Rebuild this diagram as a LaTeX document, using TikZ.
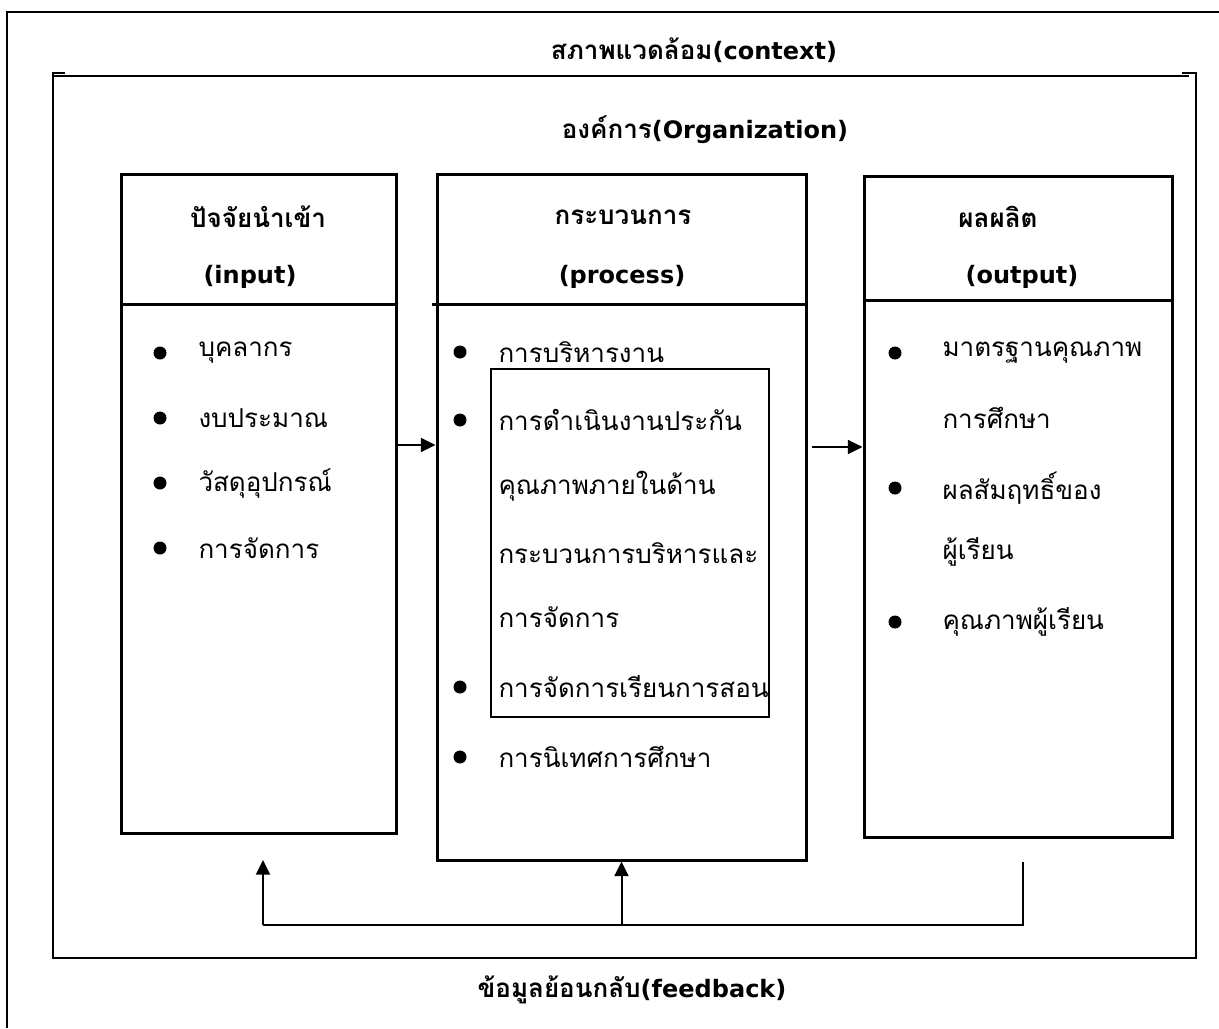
\documentclass[tikz,border=0pt]{standalone}
\usepackage{fontspec}
\setmainfont[Script=Thai]{Loma}
\newfontfamily\latinfont{DejaVu Sans}
\newcommand\lat[1]{{\latinfont\fontsize{18}{22}\selectfont #1}}
\usetikzlibrary{arrows.meta}

\tikzset{every picture/.style={line width=0.75pt}}
\tikzset{
  box/.style={draw, line width=2.25pt, inner sep=0pt},
  head/.style={font=\bfseries\fontsize{19.5}{22}\selectfont},
  item/.style={anchor=west, inner sep=0pt, font=\fontsize{19.5}{22}\selectfont},
  dot/.style={circle, fill, inner sep=0pt, minimum size=9.75pt},
  arr/.style={line width=1.5pt, -{Triangle[length=11pt,width=10.5pt]}},
}

\begin{document}
\begin{tikzpicture}[x=0.75pt,y=0.75pt,yscale=-1,xscale=1]
	\useasboundingbox (0,0) rectangle (1219,1028);

	%Straight Lines [outer frame]
	\draw [line width=1.5pt] (1219,12) -- (7,12) -- (7,1028) ;
	%Shape: Rectangle [organization frame]
	\draw [line width=1.5pt] (1182,73) -- (1196,73) -- (1196,958) -- (53,958) -- (53,73) -- (65,73) ;
	\draw [line width=1.5pt] (53,76) -- (1189,76) ;

	%Shape: Rectangle [input]
	\node [box, minimum width=206.25pt, minimum height=494.25pt] (inbox) at (258.5,503.5) {};
	\draw [line width=2.25pt] (inbox.west |- 0,304) -- (inbox.east |- 0,304) ;
	%Shape: Rectangle [process]
	\node [box, minimum width=276.75pt, minimum height=514.5pt] (procbox) at (621.5,517) {};
	\draw [line width=2.25pt] (432,304) -- (procbox.east |- 0,304) ;
	%Shape: Rectangle [output]
	\node [box, minimum width=231pt, minimum height=495.75pt] (outbox) at (1018,506.5) {};
	\draw [line width=2.25pt] (outbox.west |- 0,300) -- (outbox.east |- 0,300) ;
	%Shape: Rectangle [quality assurance]
	\node [draw, line width=1.5pt, inner sep=0pt, minimum width=208.5pt, minimum height=261pt] (qabox) at (630,543) {};

	%Straight Lines [input -> process]
	\draw [arr] (inbox.east |- 0,445) -- (procbox.west |- 0,445) ;
	%Straight Lines [process -> output]
	\draw [arr] (812,447) coordinate (pout) -- (outbox.west |- pout) ;

	%Straight Lines [feedback]
	\coordinate (fbout) at (1023,862) ;
	\coordinate (fbin) at (263,925) ;
	\coordinate (fbproc) at (procbox.south |- fbin) ;
	\draw [line width=1.5pt] (fbout) |- (fbin) ;
	\draw [arr] (fbin) -- (263,860) coordinate (fbtip) ;
	\draw [arr] (fbproc) -- (procbox.south) ;

	% Text Node
	\node [head] (context) at (694,50) {สภาพแวดล้อม\lat{(context)}};
	% Text Node
	\node [head] (org) at (705,130) {องค์การ\lat{(Organization)}};
	% Text Node
	\node [head] (feedback) at (632,990) {ข้อมูลย้อนกลับ\lat{(feedback)}};

	% Text Node
	\node [head] (inhead) at (258,217) {ปัจจัยนำเข้า};
	\node [head] (inname) at (250,277) {\lat{(input)}};
	% Text Node
	\node [head] (prochead) at (623,217) {กระบวนการ};
	\node [head] (procname) at (622,277) {\lat{(process)}};
	% Text Node
	\node [head] (outhead) at (998,217) {ผลผลิต};
	\node [head] (outname) at (1022,277) {\lat{(output)}};

	% Text Node [input items]
	\foreach \t [count=\i] in {บุคลากร,งบประมาณ,วัสดุอุปกรณ์,การจัดการ} {
		\node [dot] (indot\i) at (160,288+65*\i) {};
		\node [item] (initem\i) at (198,288+65*\i) {\t};
	}

	% Text Node [process items]
	\node [dot] (procdot1) at (460,352) {};
	\node [item] (procitem1) at (498,352) {การบริหารงาน};
	\node [dot] (procdot2) at (460,420) {};
	\node [item] (procitem2) at (498,420) {การดำเนินงานประกัน};
	\node [item] (procitem3) at (498,486) {คุณภาพภายในด้าน};
	\node [item] (procitem4) at (498,553) {กระบวนการบริหารและ};
	\node [item] (procitem5) at (498,617) {การจัดการ};
	\node [dot] (procdot6) at (460,687) {};
	\node [item] (procitem6) at (498,687) {การจัดการเรียนการสอน};
	\node [dot] (procdot7) at (460,757) {};
	\node [item] (procitem7) at (498,757) {การนิเทศการศึกษา};

	% Text Node [output items]
	\node [dot] (outdot1) at (895,353) {};
	\node [item] (outitem1) at (942,353) {มาตรฐานคุณภาพ};
	\node [item] (outitem2) at (942,418) {การศึกษา};
	\node [dot] (outdot3) at (895,488) {};
	\node [item] (outitem3) at (942,488) {ผลสัมฤทธิ์ของ};
	\node [item] (outitem4) at (942,552) {ผู้เรียน};
	\node [dot] (outdot5) at (895,622) {};
	\node [item] (outitem5) at (942,622) {คุณภาพผู้เรียน};
\end{tikzpicture}
\end{document}
